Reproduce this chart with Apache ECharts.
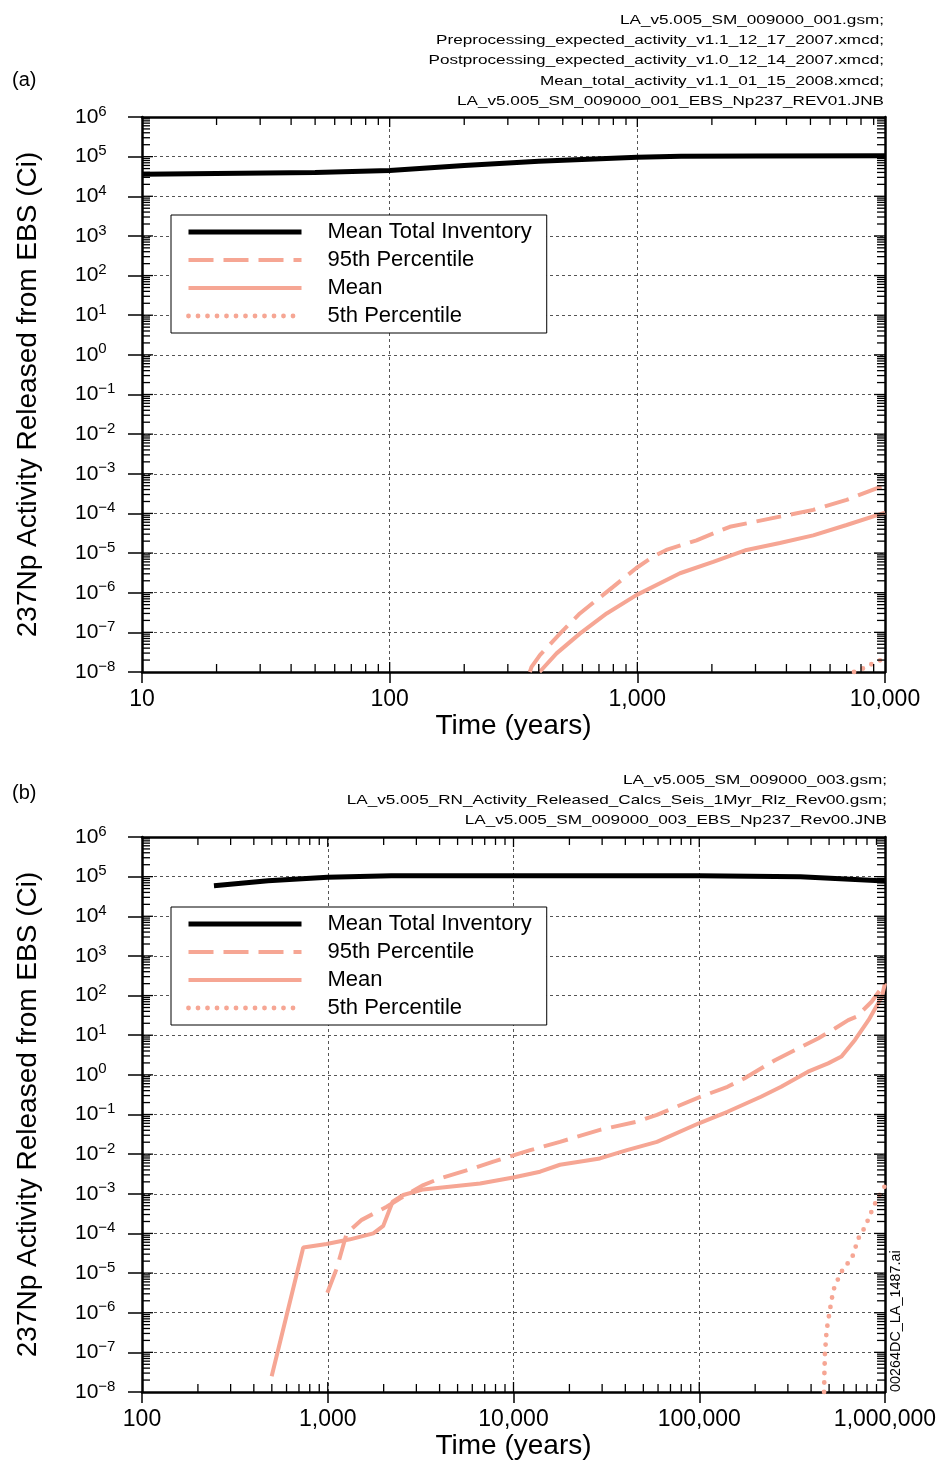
<!DOCTYPE html>
<html>
<head>
<meta charset="utf-8">
<title>237Np Activity Released from EBS</title>
<style>
html,body{margin:0;padding:0;background:#fff}
#chart{width:940px;height:1464px}
</style>
</head>
<body>
<div id="chart"></div>
<script src="https://cdn.jsdelivr.net/npm/echarts@6/dist/echarts.min.js"></script>
<script>
// panel (a): 10 - 10,000 years
var timeA_total = [10, 50, 100, 200, 400, 1000, 1500, 3000, 10000];
var totalA = [3.6e4, 4.0e4, 4.5e4, 6.0e4, 7.6e4, 9.6e4, 1.03e5, 1.04e5, 1.05e5];
var timeA_p95 = [368, 374, 405, 487, 586, 684, 798, 991, 1158, 1310, 1734, 2363, 3764, 5130, 7000, 9250, 10000];
var p95A = [1e-8, 1.35e-8, 2.7e-8, 9.3e-8, 3.0e-7, 6.5e-7, 1.4e-6, 4.2e-6, 8.1e-6, 1.2e-5, 2.1e-5, 4.6e-5, 8.3e-5, 1.23e-4, 2.2e-4, 4.3e-4, 4.6e-4];
var timeA_mean = [403, 472, 586, 752, 991, 1486, 2024, 2760, 3764, 5130, 7000, 10000];
var meanA = [1e-8, 2.95e-8, 9.3e-8, 3.0e-7, 8.7e-7, 3.1e-6, 6.0e-6, 1.2e-5, 1.8e-5, 2.8e-5, 5.1e-5, 1.05e-4];
var timeA_p5 = [7500, 8240, 8970, 9770, 10000];
var p5A = [1e-8, 1.26e-8, 1.66e-8, 2.1e-8, 2.3e-8];

// panel (b): 100 - 1,000,000 years
var timeB_total = [244, 477, 1000, 2200, 10000, 100000, 350000, 1000000];
var totalB = [5.9e4, 7.9e4, 9.6e4, 1.05e5, 1.06e5, 1.05e5, 1.0e5, 7.8e4];
var timeB_mean = [499, 738, 986, 1318, 1760, 1990, 2234, 2550, 3270, 6610, 9970, 13900, 17800, 29200, 40800, 59200, 99600, 141900, 214900, 276000, 385000, 494000, 583000, 689000, 815000, 962000, 1000000];
var meanB = [2.5e-8, 4.4e-5, 5.4e-5, 7.1e-5, 1.0e-4, 1.55e-4, 6.3e-4, 9.3e-4, 1.29e-3, 1.82e-3, 2.57e-3, 3.6e-3, 5.4e-3, 7.8e-3, 1.26e-2, 2.04e-2, 6.0e-2, 0.117, 0.28, 0.5, 1.2, 1.95, 2.9, 7.6, 24, 93, 204];
var timeB_p95 = [995, 1117, 1264, 1524, 2077, 2448, 3270, 4020, 6080, 7790, 12300, 17800, 29200, 46200, 59200, 97500, 141900, 174600, 254000, 354000, 436000, 537000, 634000, 703000, 849000, 1000000];
var p95B = [3.2e-6, 1.3e-5, 1.0e-4, 2.2e-4, 4.7e-4, 7.6e-4, 1.66e-3, 2.45e-3, 4.4e-3, 6.5e-3, 1.26e-2, 2.04e-2, 4.1e-2, 6.6e-2, 9.8e-2, 0.26, 0.5, 0.81, 2.3, 5.1, 8.3, 14.8, 24, 29.5, 71, 204];
var timeB_p5 = [470000, 472000, 475000, 485000, 505000, 527000, 561000, 597000, 662000, 720000, 782000, 867000, 923000, 1000000];
var p5B = [1e-8, 3.2e-8, 9.3e-8, 3.6e-7, 1.17e-6, 3.7e-6, 7.4e-6, 1.32e-5, 2.3e-5, 7.6e-5, 1.48e-4, 4.7e-4, 8.5e-4, 1.6e-3];

var legendNames = ['Mean Total Inventory', '95th Percentile', 'Mean', '5th Percentile'];
var notesA = ['LA_v5.005_SM_009000_001.gsm;', 'Preprocessing_expected_activity_v1.1_12_17_2007.xmcd;', 'Postprocessing_expected_activity_v1.0_12_14_2007.xmcd;', 'Mean_total_activity_v1.1_01_15_2008.xmcd;', 'LA_v5.005_SM_009000_001_EBS_Np237_REV01.JNB'];
var notesB = ['LA_v5.005_SM_009000_003.gsm;', 'LA_v5.005_RN_Activity_Released_Calcs_Seis_1Myr_Rlz_Rev00.gsm;', 'LA_v5.005_SM_009000_003_EBS_Np237_Rev00.JNB'];
var xRangeA = [10, 10000], xRangeB = [100, 1000000], yRange = [1e-8, 1e6];

var FONT = 'Liberation Sans, Arial, sans-serif';
var SALMON = '#f6a694';
var chart = echarts.init(document.getElementById('chart'));

function pairs(t, v) {
  return t.map(function (x, i) { return [x, v[i]]; });
}

function lineSeries(name, data, ax, style) {
  return {
    name: name, type: 'line', data: data,
    xAxisIndex: ax, yAxisIndex: ax,
    symbol: 'none', showSymbol: false, silent: true, clip: true,
    lineStyle: style, itemStyle: {color: style.color}
  };
}

function supLabel(v) {
  var e = Math.round(Math.log10(v));
  return '{b|10}{s|' + (e < 0 ? '\u2212' + (-e) : e) + '}';
}

function commaLabel(v) {
  return Math.round(v).toLocaleString('en-US');
}

var blackStyle = {color: '#000', width: 5};
var dashStyle = {color: SALMON, width: 4, type: [25, 10]};
var solidStyle = {color: SALMON, width: 4};
var dotStyle = {color: SALMON, width: 4.8, type: [0, 9.5], cap: 'round'};

function xAxes(range, grid, bottom) {
  return {
    type: 'log', logBase: 10, gridIndex: grid, min: range[0], max: range[1], interval: 1,
    position: bottom ? 'bottom' : 'top',
    name: bottom ? 'Time (years)' : '', nameLocation: 'middle', nameGap: 40,
    nameTextStyle: {fontFamily: FONT, fontSize: 28, color: '#000'},
    axisLine: {show: true, onZero: false, lineStyle: {color: '#000', width: 2.5}},
    axisTick: {show: bottom, inside: false, length: 11, lineStyle: {color: '#000', width: 1.5}},
    axisLabel: {show: bottom, margin: 16, fontFamily: FONT, fontSize: 23, color: '#000',
      formatter: commaLabel, showMinLabel: true, showMaxLabel: true},
    splitLine: {show: bottom, lineStyle: {color: '#555', width: 1, type: [3, 3]}},
    minorTick: {show: false}
  };
}

function yAxes(grid, left) {
  return {
    type: 'log', logBase: 10, gridIndex: grid, min: yRange[0], max: yRange[1], interval: 1,
    position: left ? 'left' : 'right',
    name: left ? '237Np Activity Released from EBS (Ci)' : '',
    nameLocation: 'middle', nameRotate: 90, nameGap: 100,
    nameTextStyle: {fontFamily: FONT, fontSize: 28, color: '#000'},
    axisLine: {show: true, onZero: false, lineStyle: {color: '#000', width: 2.5}},
    axisTick: {show: left, inside: false, length: 14, lineStyle: {color: '#000', width: 1.5}},
    axisLabel: {show: left, margin: 67, align: 'left', formatter: supLabel,
      rich: {
        b: {fontFamily: FONT, fontSize: 21, color: '#000', lineHeight: 26},
        s: {fontFamily: FONT, fontSize: 15, color: '#000', verticalAlign: 'top', lineHeight: 15}
      }},
    splitLine: {show: left, lineStyle: {color: '#555', width: 1, type: [3, 3]}}
  };
}

function legendAt(top) {
  return {
    show: true, orient: 'vertical', left: 171, top: top,
    data: legendNames, itemWidth: 113, itemHeight: 14, itemGap: 4,
    padding: [5, 15, 5, 15], borderColor: '#000', borderWidth: 1, backgroundColor: '#fff',
    selectedMode: false,
    itemStyle: {opacity: 0},
    lineStyle: {width: 'inherit'},
    textStyle: {fontFamily: FONT, fontSize: 22, color: '#000', lineHeight: 24, padding: [0, 0, 0, 21]}
  };
}

// the file-name notes are drawn wide, so the text is stretched horizontally
function noteTexts(lines, right, y0) {
  return lines.map(function (s, i) {
    return {type: 'text', x: right, y: y0 + i * 20.4, scaleX: 1.3, silent: true,
      style: {text: s, fontFamily: FONT, fontSize: 13.2, fill: '#000', textAlign: 'right', textVerticalAlign: 'middle'}};
  });
}

var textEls = [].concat(
  noteTexts(notesA, 884, 20),
  noteTexts(notesB, 887, 780),
  [
    {type: 'text', left: 12, top: 70, silent: true, style: {text: '(a)', fontFamily: FONT, fontSize: 20, fill: '#000'}},
    {type: 'text', left: 12, top: 783, silent: true, style: {text: '(b)', fontFamily: FONT, fontSize: 20, fill: '#000'}},
    {type: 'text', x: 889, y: 1392, rotation: Math.PI / 2, silent: true,
      style: {text: '00264DC_LA_1487.ai', fontFamily: FONT, fontSize: 14.4, fill: '#000', textAlign: 'left', textVerticalAlign: 'top'}}
  ]
);

var option = {
  backgroundColor: '#fff',
  animation: false,
  grid: [
    {left: 142, right: 55, top: 117, height: 555, outerBoundsMode: 'none'},
    {left: 142, right: 55, top: 837, height: 555, outerBoundsMode: 'none'}
  ],
  xAxis: [xAxes(xRangeA, 0, true), xAxes(xRangeA, 0, false), xAxes(xRangeB, 1, true), xAxes(xRangeB, 1, false)],
  yAxis: [yAxes(0, true), yAxes(0, false), yAxes(1, true), yAxes(1, false)],
  legend: [legendAt(215), legendAt(907)],
  series: [
    lineSeries('Mean Total Inventory', pairs(timeA_total, totalA), 0, blackStyle),
    lineSeries('95th Percentile', pairs(timeA_p95, p95A), 0, dashStyle),
    lineSeries('Mean', pairs(timeA_mean, meanA), 0, solidStyle),
    lineSeries('5th Percentile', pairs(timeA_p5, p5A), 0, dotStyle),
    lineSeries('Mean Total Inventory', pairs(timeB_total, totalB), 2, blackStyle),
    lineSeries('95th Percentile', pairs(timeB_p95, p95B), 2, dashStyle),
    lineSeries('Mean', pairs(timeB_mean, meanB), 2, solidStyle),
    lineSeries('5th Percentile', pairs(timeB_p5, p5B), 2, dotStyle)
  ],
  graphic: textEls
};
chart.setOption(option);

// log minor ticks (2..9) and inward decade ticks on all four sides
function seg(x1, y1, x2, y2, w) {
  return {type: 'line', silent: true, z: 10,
    shape: {x1: x1, y1: y1, x2: x2, y2: y2},
    style: {stroke: '#000', lineWidth: w}};
}

function frameTicks(xi, yi, xr, yr) {
  var els = [];
  var xL = chart.convertToPixel({xAxisIndex: xi}, xr[0]);
  var xR = chart.convertToPixel({xAxisIndex: xi}, xr[1]);
  var yB = chart.convertToPixel({yAxisIndex: yi}, yr[0]);
  var yT = chart.convertToPixel({yAxisIndex: yi}, yr[1]);
  var d0 = Math.round(Math.log10(xr[0])), d1 = Math.round(Math.log10(xr[1]));
  for (var d = d0; d < d1; d++) {
    for (var k = 1; k <= 9; k++) {
      if (k === 1 && d === d0) continue;
      var p = chart.convertToPixel({xAxisIndex: xi}, k * Math.pow(10, d));
      var len = k === 1 ? 10 : 8;
      els.push(seg(p, yB, p, yB - len, 1.3), seg(p, yT, p, yT + len, 1.3));
    }
  }
  var e0 = Math.round(Math.log10(yr[0])), e1 = Math.round(Math.log10(yr[1]));
  for (var e = e0; e < e1; e++) {
    for (var m = 1; m <= 9; m++) {
      if (m === 1 && e === e0) continue;
      var q = chart.convertToPixel({yAxisIndex: yi}, m * Math.pow(10, e));
      var l2 = m === 1 ? 11 : 8;
      els.push(seg(xL, q, xL + l2, q, 1.3), seg(xR, q, xR - l2, q, 1.3));
    }
  }
  return els;
}

chart.setOption({
  graphic: textEls.concat(frameTicks(0, 0, xRangeA, yRange), frameTicks(2, 2, xRangeB, yRange))
});
</script>
</body>
</html>
